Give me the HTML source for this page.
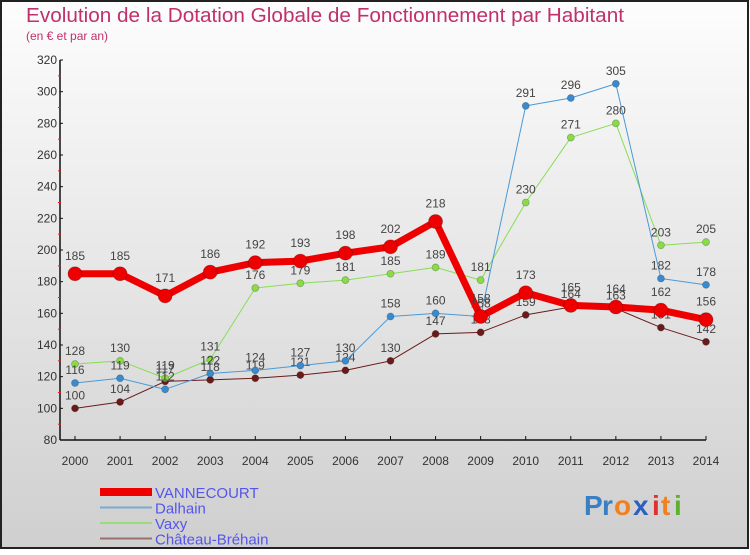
<!DOCTYPE html>
<html><head><meta charset="utf-8">
<style>
html,body{margin:0;padding:0;}
body{width:750px;height:550px;overflow:hidden;font-family:"Liberation Sans",sans-serif;}
svg text{font-family:"Liberation Sans",sans-serif;}
</style></head>
<body>
<svg id="chart" width="750" height="550" xmlns="http://www.w3.org/2000/svg">
<defs>
<linearGradient id="bg" x1="0" y1="0" x2="0" y2="1">
<stop offset="0" stop-color="#fdfdfd"/><stop offset="1" stop-color="#cfcfcf"/>
</linearGradient>
</defs>
<rect x="1" y="1" width="747" height="547" fill="url(#bg)" stroke="#222" stroke-width="2"/>
<text x="26" y="22" font-size="20" fill="#c0306a" textLength="598" lengthAdjust="spacingAndGlyphs">Evolution de la Dotation Globale de Fonctionnement par Habitant</text>
<text x="26" y="40" font-size="12" fill="#c0306a">(en € et par an)</text>
<g id="axes"></g>
<g id="series"></g>
<g id="legend"></g>
<g font-size="28" font-weight="bold">
<text x="584" y="515" fill="#3a7fc4">P</text><text x="602" y="515" fill="#3a7fc4">r</text><text x="614" y="515" fill="#f08020">o</text><text x="633" y="515" fill="#2a60c0">x</text><text x="652" y="515" fill="#e03030">i</text><text x="661" y="515" fill="#f08020">t</text><text x="674" y="515" fill="#60b030">i</text>
</g>
</svg>
<script>
const years=[2000,2001,2002,2003,2004,2005,2006,2007,2008,2009,2010,2011,2012,2013,2014];
const yTicks=[80,100,120,140,160,180,200,220,240,260,280,300,320];
const vannecourt=[185,185,171,186,192,193,198,202,218,158,173,165,164,162,156];
const dalhain=[116,119,112,122,124,127,130,158,160,158,291,296,305,182,178];
const vaxy=[128,130,119,131,176,179,181,185,189,181,230,271,280,203,205];
const chateau=[100,104,117,118,119,121,124,130,147,148,159,164,163,151,142];
const NS="http://www.w3.org/2000/svg";
function X(i){return 75+i*(706-75)/14;}
function Y(v){return 440-(v-80)*(380/240);}
function mk(tag,attrs,parent){const e=document.createElementNS(NS,tag);for(const k in attrs)e.setAttribute(k,attrs[k]);parent.appendChild(e);return e;}
const axes=document.getElementById('axes');
const ya=mk('line',{x1:60,y1:Y(320),x2:60,y2:440,stroke:'#111','stroke-width':1.5},axes);


const xa=mk('line',{x1:60,y1:440,x2:X(14),y2:440,stroke:'#111','stroke-width':1.5},axes);


yTicks.forEach((t,k)=>{
  mk('line',{x1:60,y1:Y(t),x2:63,y2:Y(t),stroke:'#111'},axes);
  if(k<yTicks.length-1) mk('line',{x1:58,y1:Y(t+10),x2:61,y2:Y(t+10),stroke:'#e02020'},axes);
  const tx=mk('text',{x:57,y:Y(t)+4,'font-size':12,'text-anchor':'end',fill:'#333'},axes);
  
  
  tx.textContent=t;
});
years.forEach((yr,i)=>{
  mk('line',{x1:X(i),y1:440,x2:X(i),y2:436,stroke:'#111'},axes);
  const tx=mk('text',{x:X(i),y:465,'font-size':12,'text-anchor':'middle',fill:'#333'},axes);
  
  
  tx.textContent=yr;
});
const S=document.getElementById('series');
const defs=[
  {name:'chateau',data:chateau,color:'#6b1a1a',w:1,r:3.5,dot:'#6b1a1a'},
  {name:'vaxy',data:vaxy,color:'#88dd55',w:1,r:3.5,dot:'#88dd44'},
  {name:'dalhain',data:dalhain,color:'#4a9ad8',w:1,r:3.5,dot:'#3a8ad0'},
  {name:'vannecourt',data:vannecourt,color:'#ee0000',w:7,r:7,dot:'#ee0000'}
];
defs.forEach(s=>{
  const g=mk('g',{},S);
  
  
  const pl=mk('polyline',{points:s.data.map((v,i)=>X(i)+','+Y(v)).join(' '),fill:'none',stroke:s.color,'stroke-width':s.w,'stroke-linejoin':'round'},g);
  
  
  s.data.forEach((v,i)=>{
    const c=mk('circle',{cx:X(i),cy:Y(v),r:s.r,fill:s.dot,stroke:'rgba(0,0,0,0.25)','stroke-width':0.8},g);
    
    
    const t=mk('text',{x:X(i),y:Y(v)-(s.w>2?14:9),'font-size':12,'text-anchor':'middle',fill:'#444'},g);
    
    
    t.textContent=v;
  });
});
const L=document.getElementById('legend');
const leg=[['VANNECOURT','#ee0000',8],['Dalhain','#7aaad0',2],['Vaxy','#99dd77',2],['Château-Bréhain','#997070',2]];
leg.forEach((e,k)=>{
  const y=492+k*15.5;
  const ln=mk('line',{x1:100,y1:y,x2:152,y2:y,stroke:e[1],'stroke-width':e[2]},L);
  
  
  const t=mk('text',{x:155,y:y+6,'font-size':15,fill:'#5555ee'},L);
  
  
  t.textContent=e[0];
});
</script>
</body></html>
